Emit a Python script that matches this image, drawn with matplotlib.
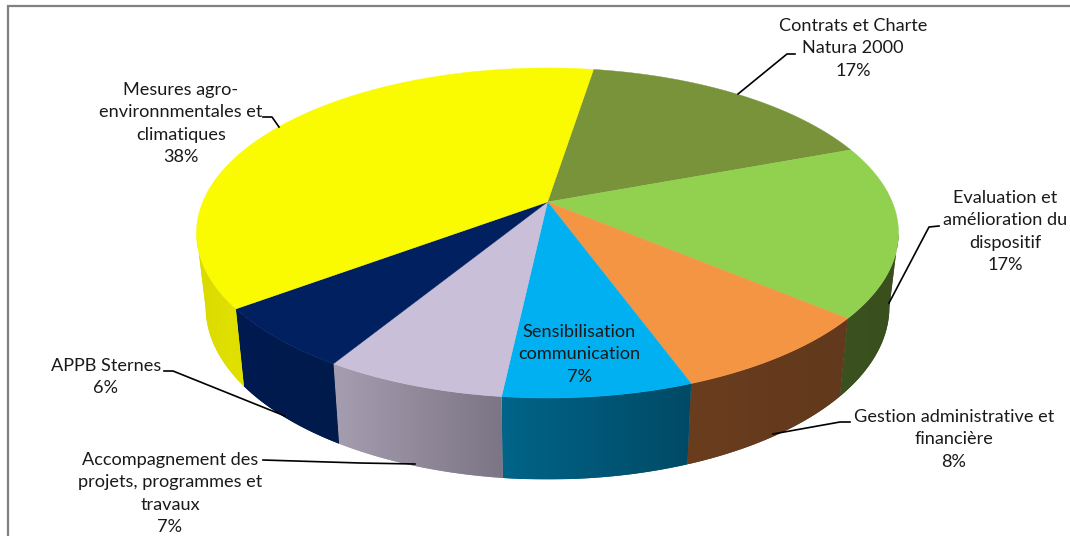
import numpy as np
import matplotlib
matplotlib.use('Agg')
import matplotlib.pyplot as plt
from matplotlib.patches import Polygon

plt.rcParams['font.family'] = ['Lato', 'DejaVu Sans']

# clockwise from the olive slice
categories = ['Contrats et Charte\nNatura 2000',
              'Evaluation et\namélioration du\ndispositif',
              'Gestion administrative et\nfinancière',
              'Sensibilisation\ncommunication',
              'Accompagnement des\nprojets, programmes et\ntravaux',
              'APPB Sternes',
              'Mesures agro-\nenvironnmentales et\nclimatiques']
shares = [16.8, 16.8, 8.3, 7.3, 7.0, 6.1, 37.7]

top_colors = ['#79933B', '#92D050', '#F49544', '#00B0F0', '#C9BFD8', '#002060', '#FAFA00']
side_left = ['#4A5E25', '#3B5220', '#6A3D1E', '#006488', '#A69EB0', '#001B50', '#DADA00']
side_right = ['#4A5E25', '#3A4E1E', '#62391C', '#004A66', '#7C7585', '#001A4C', '#E2E200']

label_xy = [(853, 26), (1005, 198), (954, 417), (579, 332), (170, 460), (106, 366), (181, 90)]
leaders = [[(738, 94), (787, 54), (795, 54)],
           [(889, 303), (929, 227), (939, 226)],
           [(773, 434), (840, 422), (850, 422)],
           None,
           [(263, 460), (360, 463), (415, 464)],
           [(164, 371), (173, 371), (285, 416)],
           [(263, 117), (272, 117), (279, 127)]]

# ellipse of the top face, in pixels
cx, cy, rx, ry = 547.5, 233.0, 351.0, 165.0
boost = 0.188      # how far the pie centre sits above the ellipse centre
start_deg = 9.1


def rim(theta_deg):
    # circle -> perspective ellipse, angle measured clockwise from the back
    t = np.radians(theta_deg)
    u, v = np.sin(t), np.cos(t)
    d = 1 + boost * v
    x = u * np.sqrt(1 - boost ** 2) / d
    y = (v + boost) / d
    return cx + rx * x, cy - ry * y


def drop(x, y):
    # rim of the top face -> rim of the bottom face
    return cx + 0.974 * (x - cx), 307 + 1.045 * (y - cy)


fig = plt.figure(figsize=(10.7, 5.36), dpi=100)
ax = fig.add_axes([0, 0, 1, 1])

edges = start_deg + np.concatenate([[0], np.cumsum(shares)]) * 360.0 / sum(shares)
apex = cx, cy - ry * boost

# sides first, only the part below the widest point of the rim shows
for i in range(len(shares)):
    th = np.linspace(edges[i], edges[i + 1], 300)
    x, y = rim(th)
    keep = y >= cy
    if keep.sum() < 2:
        continue
    x, y = x[keep], y[keep]
    xb, yb = drop(x, y)
    outline = np.column_stack([np.r_[x, xb[::-1]], np.r_[y, yb[::-1]]])
    c0 = np.array(matplotlib.colors.to_rgb(side_left[i]))
    c1 = np.array(matplotlib.colors.to_rgb(side_right[i]))
    ramp = np.linspace(0, 1, 64)[None, :, None]
    img = c0[None, None, :] + (c1 - c0)[None, None, :] * ramp
    patch = Polygon(outline, closed=True, facecolor=side_left[i], edgecolor='none', zorder=1)
    ax.add_patch(patch)
    shade = ax.imshow(img, extent=(outline[:, 0].min(), outline[:, 0].max(),
                                   outline[:, 1].max(), outline[:, 1].min()),
                      aspect='auto', interpolation='bilinear', zorder=1.5)
    shade.set_clip_path(patch)

ax.set_xlim(0, 1070)
ax.set_ylim(536, 0)
ax.axis('off')

# top face
for i in range(len(shares)):
    th = np.linspace(edges[i], edges[i + 1], 200)
    x, y = rim(th)
    ax.fill(np.r_[apex[0], x], np.r_[apex[1], y], color=top_colors[i], lw=0.3, zorder=3)

# frame, open on the right and at the bottom
ax.plot([8, 8, 1070], [536, 6, 6], color='#808080', lw=1.6, zorder=2, solid_joinstyle='miter')

for i, name in enumerate(categories):
    lines = name.split('\n') + ['%.0f%%' % shares[i]]
    lx, ly = label_xy[i]
    for k, line in enumerate(lines):
        ax.text(lx, ly + k * 22.3, line, ha='center', va='center', fontsize=13.1,
                color='#1A1A1A', zorder=6, clip_on=True)
    if leaders[i] is not None:
        px, py = zip(*leaders[i])
        ax.plot(px, py, color='black', lw=1.2, zorder=5)

fig.savefig('out.png', dpi=100)
